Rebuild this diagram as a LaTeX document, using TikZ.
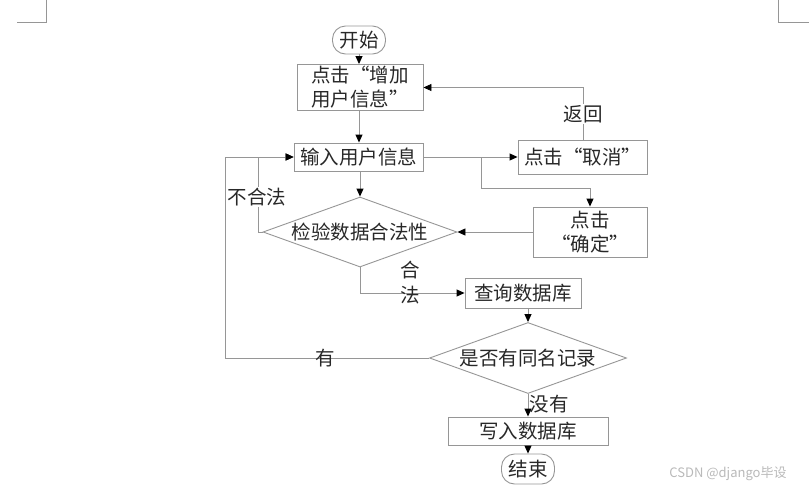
\documentclass[tikz,border=0pt]{standalone}
\usepackage{fontspec}
\setmainfont{Noto Sans CJK SC}
\newfontfamily\wmfont{Noto Sans CJK SC}
\usetikzlibrary{shapes.geometric,arrows.meta}
\definecolor{linegray}{RGB}{150,150,150}
\definecolor{txtgray}{RGB}{40,40,40}
\begin{document}
\begin{tikzpicture}[x=1pt,y=-1pt,
  every node/.style={font=\fontsize{19.5}{24}\selectfont,text=txtgray},
  procbox/.style={draw=linegray,line width=0.9pt,rectangle,inner sep=0pt,align=center},
  termbox/.style={draw=linegray,line width=0.9pt,rectangle,rounded corners=13pt,inner sep=0pt},
  decbox/.style={draw=linegray,line width=0.9pt,diamond,inner sep=0pt,aspect=2.77},
  conn/.style={draw=linegray,line width=0.9pt},
  arr/.style={conn,-{Triangle[length=8pt,width=7pt,fill=black,color=black]}},
  lbl/.style={fill=white,inner sep=1pt},
  lbln/.style={inner sep=0pt}
]
\useasboundingbox (0,0) rectangle (809,491);
% crop marks
\draw[linegray,line width=0.8pt] (46,0) coordinate (cm1) -- (46,22) -- (17,22);
\draw[linegray,line width=0.8pt] (778,0) coordinate (cm2) -- (778,22) -- (809,22);

\node[termbox,minimum width=53pt,minimum height=28pt] (start) at (359,40) {开始};
\node[procbox,minimum width=126pt,minimum height=46pt] (b1) at (360,87.5) {点击“增加\\用户信息”};
\node[procbox,minimum width=129pt,minimum height=28pt] (b2) at (358.5,157) {输入用户信息};
\node[procbox,minimum width=129pt,minimum height=34pt] (cancel) at (582.5,157) {点击“取消”};
\node[procbox,minimum width=114pt,minimum height=50pt] (confirm) at (590,232) {点击\\“确定”};
\node[decbox,minimum width=194pt,minimum height=70pt] (d1) at (360,232) {检验数据合法性};
\node[procbox,minimum width=116pt,minimum height=30pt] (b3) at (523,293) {查询数据库};
\node[decbox,minimum width=197pt,minimum height=71pt] (d2) at (528,358) {是否有同名记录};
\node[procbox,minimum width=160pt,minimum height=28pt] (b4) at (528,431) {写入数据库};
\node[termbox,minimum width=53pt,minimum height=30pt] (end) at (528,469) {结束};

\coordinate (br) at (481,157);
\coordinate (ret) at (583,87.5);
\coordinate (ill) at (258,232);
\coordinate (yes) at (225,358);
\coordinate (okc) at (360,293);

% connectors
\draw[arr] (start.south) -- (start.south |- b1.north);
\draw[arr] (b1.south -| start.south) -- (b2.north -| start.south);
\draw[arr] (b2.east) -- (cancel.west);
\draw[arr] (br) -- (br |- 0,188) -- (confirm.north |- 0,188) -- (confirm.north);
\draw[arr] (cancel.north -| ret) -- (ret) -- (b1.east);
\draw[arr] (confirm.west) -- (d1.east);
\draw[arr] (b2.south -| d1.north) -- (d1.north);
\draw[arr] (d1.west) -- (ill) -- (ill |- b2.west) -- (b2.west);
\draw[arr] (d2.west) -- (yes) -- (yes |- b2.west) -- (b2.west);
\draw[arr] (d1.south) -- (okc) -- (b3.west);
\draw[arr] (d2.north |- b3.south) -- (d2.north);
\draw[arr] (d2.south) -- (b4.north);
\draw[arr] (b4.south) -- (end.north);

% labels
\node[lbl] (lret) at (583,114) {返回};
\node[lbl] (lill) at (257,197) {不合法};
\node[lbln] (lok1) at (410,270) {合};
\node[lbln] (lok2) at (410,295) {法};
\node[lbln] (lyes) at (325,358) {有};
\node[lbln] (lno) at (549,404) {没有};

% watermark
\node[inner sep=0pt,font=\wmfont\fontsize{13}{15}\selectfont,text=gray!55] (wm) at (728,474) {CSDN @django毕设};
\end{tikzpicture}
\end{document}
